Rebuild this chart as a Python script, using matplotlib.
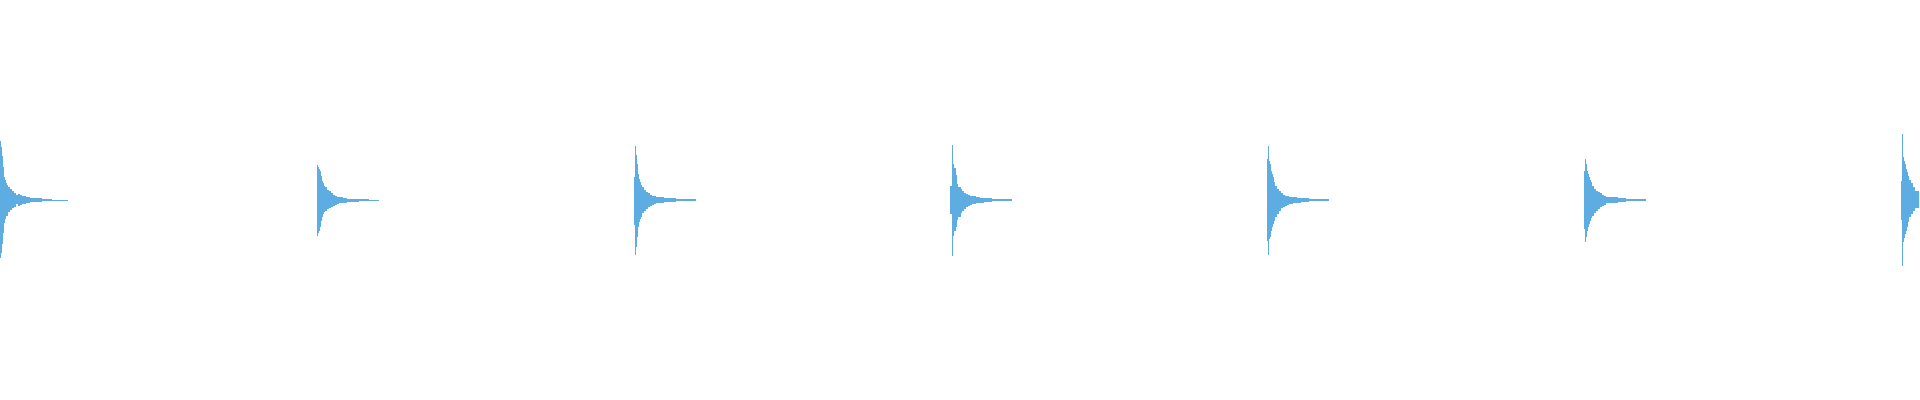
import numpy as np
import matplotlib
matplotlib.use('Agg')
import matplotlib.pyplot as plt

# Waveform view: seven decaying hits, peak envelope per column (% of full scale)
duration = 3.03                      # seconds shown
onsets = [0.0, 0.5, 1.0, 1.5, 2.0, 2.5, 3.0]
# envelope breakpoints after each onset, in milliseconds
env_ms = [0.0, 1.6, 3.2, 4.7, 6.3, 7.9, 9.5, 11.0, 12.6, 15.8, 18.9, 22.1,
          25.2, 28.4, 31.5, 34.7, 41.0, 47.3, 53.6, 66.2, 82.0, 97.8]
hit_len_ms = 107.3

upper = [
    [29.3, 26.3, 22.2, 16.7, 11.7, 10.2, 8.3, 7.7, 6.7, 5.7, 4.7, 3.7, 2.7, 3.0, 2.5, 2.2, 1.7, 1.0, 1.0, 0.7, 0.2, 0.2],
    [17.7, 16.3, 15.5, 14.7, 12.2, 9.7, 8.3, 7.2, 6.3, 5.2, 4.3, 3.7, 2.7, 2.0, 1.7, 1.3, 1.0, 0.7, 0.7, 0.3, 0.2, 0.2],
    [11.3, 26.8, 22.7, 18.0, 13.0, 10.5, 8.8, 7.7, 6.3, 5.0, 4.0, 3.3, 2.7, 2.2, 1.8, 1.7, 1.3, 1.0, 0.8, 0.7, 0.5, 0.2],
    [7.2, 27.7, 20.5, 18.0, 16.0, 12.7, 9.7, 8.0, 6.7, 5.3, 4.3, 3.7, 3.0, 2.5, 2.2, 1.8, 1.5, 1.2, 1.0, 0.7, 0.3, 0.2],
    [20.5, 26.8, 19.7, 18.0, 14.7, 13.0, 11.3, 8.8, 7.2, 5.5, 4.3, 3.3, 2.7, 2.2, 1.8, 1.5, 1.3, 1.2, 0.8, 0.7, 0.3, 0.2],
    [14.7, 20.7, 18.0, 14.7, 13.0, 11.3, 10.0, 8.8, 7.2, 5.5, 4.7, 3.8, 3.3, 2.7, 2.2, 1.5, 1.7, 1.3, 1.0, 0.7, 0.3, 0.2],
    [9.7, 33.0, 21.3, 19.3, 18.0, 15.5, 13.8, 12.2, 10.0, 8.3, 6.3, 4.3, 4.3],
]
lower = [
    [29.0, 26.7, 22.0, 16.7, 11.7, 9.5, 7.8, 7.8, 6.2, 5.0, 4.0, 3.3, 2.0, 3.0, 2.3, 2.0, 1.3, 0.8, 0.8, 0.7, 0.3, 0.3],
    [17.8, 16.7, 15.3, 13.7, 10.3, 8.7, 7.0, 6.2, 5.3, 4.5, 4.0, 3.3, 2.8, 2.3, 2.0, 1.7, 1.3, 1.0, 0.8, 0.5, 0.3, 0.2],
    [12.3, 27.3, 23.3, 18.7, 13.7, 11.2, 9.5, 8.3, 6.7, 5.7, 4.7, 3.7, 3.0, 2.3, 2.0, 1.7, 1.3, 1.0, 1.0, 0.7, 0.5, 0.2],
    [7.0, 27.8, 20.7, 17.8, 15.3, 13.7, 11.2, 10.0, 8.3, 6.7, 5.3, 4.3, 3.7, 3.0, 2.5, 2.0, 1.7, 1.3, 1.2, 0.7, 0.3, 0.2],
    [20.7, 27.3, 19.5, 18.3, 15.3, 13.7, 12.0, 10.3, 8.7, 7.0, 5.3, 4.0, 3.3, 2.8, 2.3, 2.0, 1.7, 1.3, 1.0, 0.7, 0.3, 0.2],
    [14.5, 21.2, 18.3, 15.3, 13.7, 12.0, 10.3, 9.0, 7.8, 6.7, 5.3, 4.5, 3.7, 3.0, 2.3, 1.7, 1.7, 1.3, 1.0, 0.7, 0.3, 0.2],
    [10.0, 32.8, 21.2, 19.0, 17.0, 15.3, 13.3, 11.2, 8.7, 7.0, 5.3, 4.0, 4.0],
]

wave_color = '#5dade2'

fig = plt.figure(figsize=(19.2, 4), dpi=100)
ax = fig.add_axes([0, 0, 1, 1])

for t0, up, lo in zip(onsets, upper, lower):
    n = len(up)
    edges = list(env_ms[:n]) + [hit_len_ms if n == len(env_ms) else env_ms[n]]
    x = t0 + np.array(edges) / 1000.0
    y_up = np.append(up, up[-1])
    y_lo = -np.append(lo, lo[-1])
    ax.fill_between(x, y_lo, y_up, step='post', color=wave_color, linewidth=0)

ax.set_xlim(0, duration)
ax.set_ylim(-100, 100)
ax.axis('off')

fig.savefig('out.png', dpi=100, facecolor='white')
